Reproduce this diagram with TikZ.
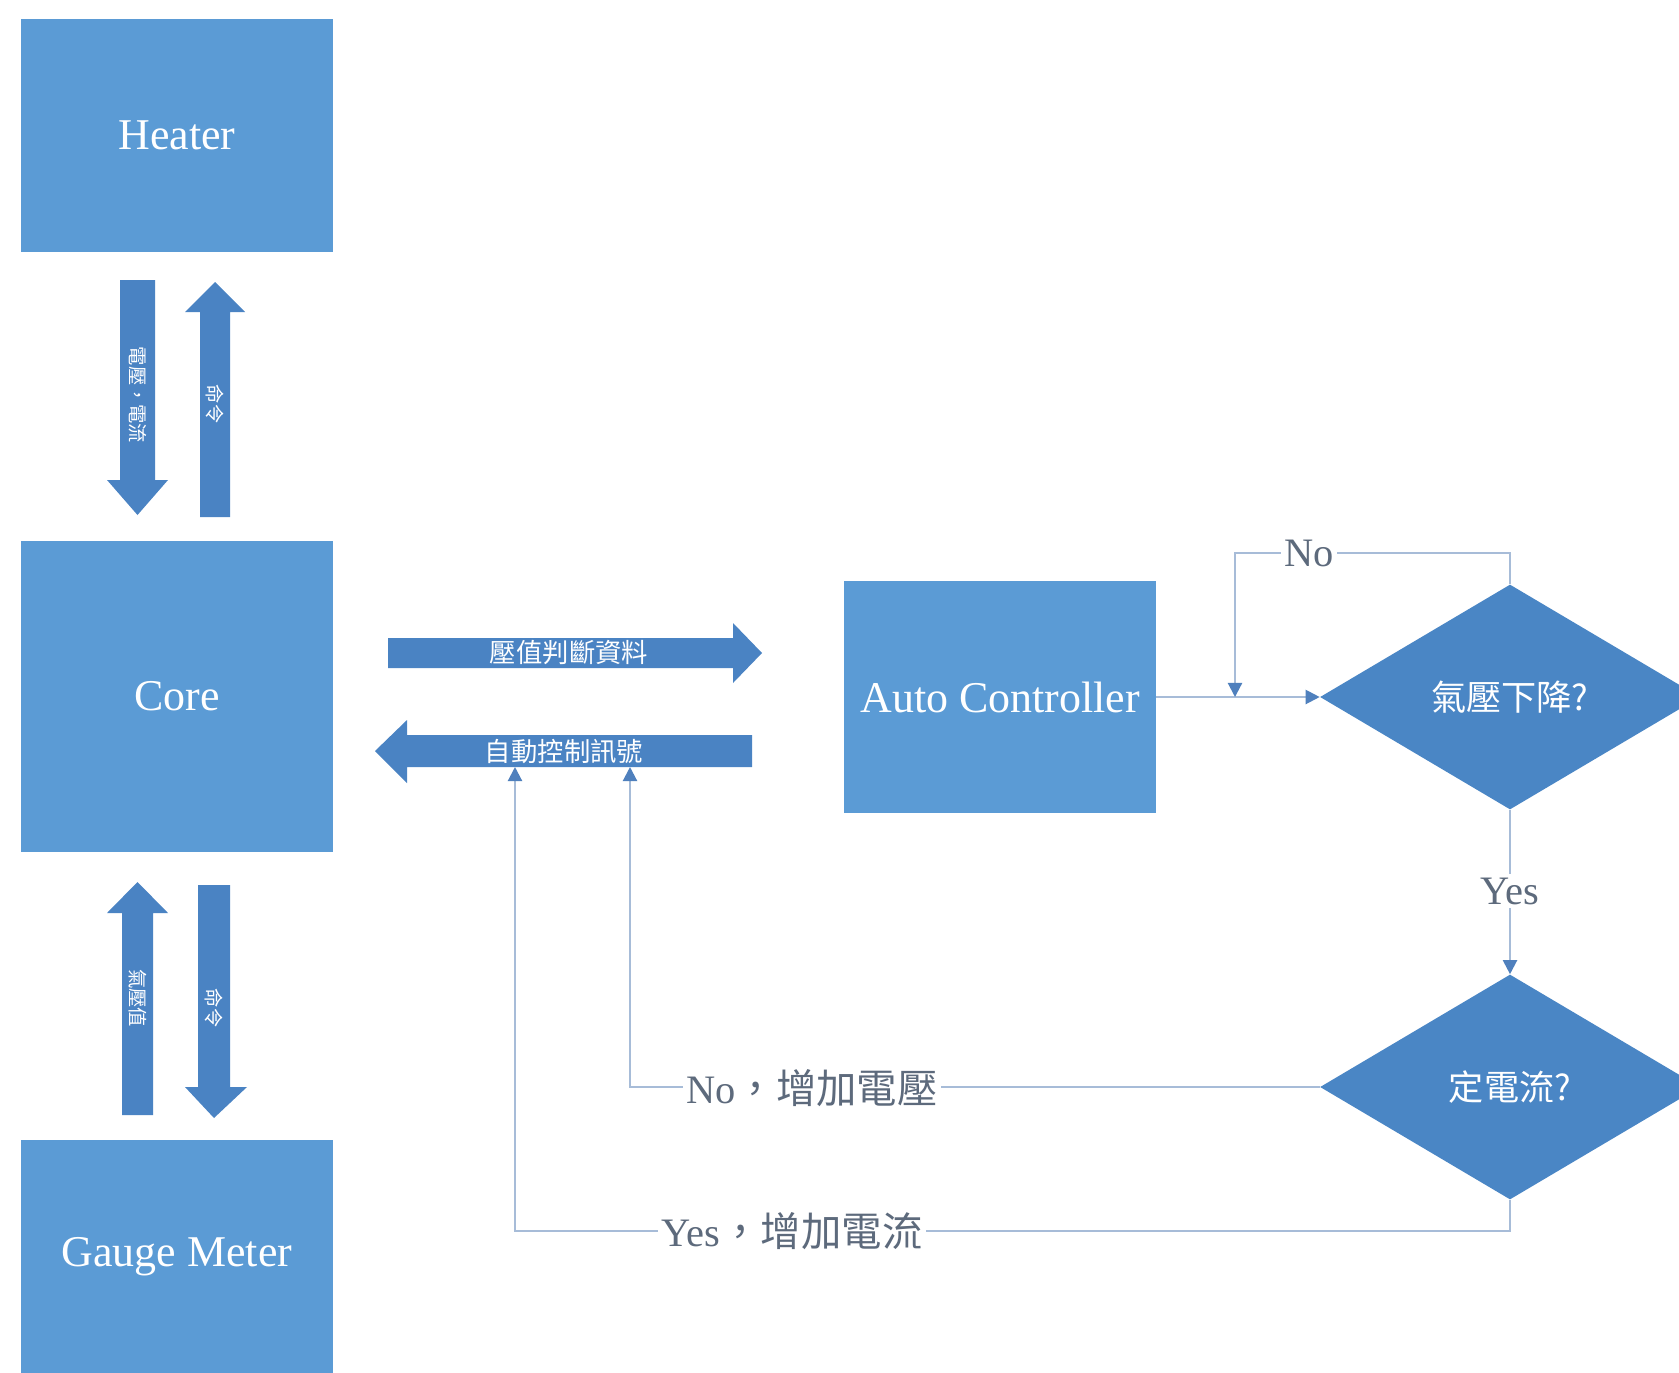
\documentclass[tikz,border=0pt]{standalone}
\usepackage{fontspec}
\setmainfont{Liberation Serif}
\newfontfamily\cjk{Noto Sans CJK TC}
\usetikzlibrary{shapes.geometric,arrows.meta}
\definecolor{boxblue}{HTML}{5B9BD5}
\definecolor{diablue}{HTML}{4A86C5}
\definecolor{arrblue}{HTML}{4A83C3}
\definecolor{linecol}{HTML}{A7BCD8}
\definecolor{tipcol}{HTML}{4F80BD}
\definecolor{labcol}{HTML}{5D6A7C}
\begin{document}
\begin{tikzpicture}[x=0.02cm,y=-0.02cm,
 box/.style={rectangle, fill=boxblue, draw=none, inner sep=0, text=white, font=\fontsize{25}{30}\selectfont},
 dia/.style={diamond, fill=diablue, draw=none, inner sep=0, minimum width=7.6cm, minimum height=4.5cm, text=white, font=\cjk\fontsize{20}{24}\selectfont},
 blockarrow/.style={fill=arrblue, draw=none},
 arrlab/.style={text=white, inner sep=0, font=\cjk\fontsize{15}{18}\selectfont},
 vlab/.style={text=white, inner sep=0, font=\cjk\fontsize{11}{13}\selectfont, rotate=-90},
 conn/.style={draw=linecol, line width=1.2pt},
 tip/.style={-{Triangle[length=8pt,width=8pt,color=tipcol]}},
 clab/.style={fill=white, text=labcol, inner sep=2pt, font=\fontsize{23}{28}\selectfont}]
\useasboundingbox (0,0) rectangle (1679,1372);
\fill[white] (0,0) rectangle (1679,1372);
\clip (0,0) rectangle (1679,1372);

% boxes
\node[box, minimum width=6.24cm, minimum height=4.66cm] (heater) at (177,135.5) {Heater};
\node[box, minimum width=6.24cm, minimum height=6.22cm] (core) at (177,696.5) {Core};
\node[box, minimum width=6.24cm, minimum height=4.66cm] (gauge) at (177,1256.5) {Gauge Meter};
\node[box, minimum width=6.24cm, minimum height=4.64cm] (ac) at (1000,697) {Auto Controller};

% diamonds
\node[dia] (d1) at (1510,697) {氣壓下降?};
\node[dia] (d2) at (1510,1087) {定電流?};

% block arrows (vertical)
\fill[blockarrow] (120,280) -- (155,280) -- (155,480) -- (168,480) -- (137.5,515) -- (107,480) -- (120,480) -- cycle;
\fill[blockarrow] (200,517) -- (230,517) -- (230,312) -- (245,312) -- (215,282) -- (185,312) -- (200,312) -- cycle;
\fill[blockarrow] (122,1115) -- (153,1115) -- (153,913) -- (168,913) -- (137.5,882) -- (107,913) -- (122,913) -- cycle;
\fill[blockarrow] (198,885) -- (230,885) -- (230,1087) -- (247,1087) -- (214,1118) -- (185,1087) -- (198,1087) -- cycle;
\node[vlab] (vl1) at (137.5,395) {電壓，電流};
\node[vlab] (vl2) at (215,404) {命令};
\node[vlab] (vl3) at (137.5,998) {氣壓值};
\node[vlab] (vl4) at (214,1008) {命令};

% block arrows (horizontal)
\fill[blockarrow] (388,638) -- (733,638) -- (733,623) -- (762,653) -- (733,683) -- (733,668) -- (388,668) -- cycle;
\fill[blockarrow] (752,735) -- (407,735) -- (407,720) -- (375,751) -- (407,783) -- (407,767) -- (752,767) -- cycle;
\node[arrlab] (hl1) at (569,653) {壓值判斷資料};
\node[arrlab] (hl2) at (564,751) {自動控制訊號};

% connectors
\coordinate (looptop) at (1235,553);
\coordinate (loopend) at (1235,697);
\coordinate (noend) at (630,767);
\coordinate (yesturn) at (515,1231);
\coordinate (yesend) at (515,767);

\draw[conn,tip] (ac.east) -- (d1.west);
\draw[conn,tip] (d1.north) |- (looptop) -- (loopend);
\draw[conn,tip] (d1.south) -- (d2.north);
\draw[conn,tip] (d2.west) -| (noend);
\draw[conn,tip] (d2.south) |- (yesturn) -- (yesend);

\node[clab] (lno) at (1309,553) {No};
\node[clab] (lyes) at (1510,891) {Yes};
\node[clab] (lno2) at (812,1088) {No{\cjk ，增加電壓}};
\node[clab] (lyes2) at (792,1231) {Yes{\cjk ，增加電流}};
\end{tikzpicture}
\end{document}
